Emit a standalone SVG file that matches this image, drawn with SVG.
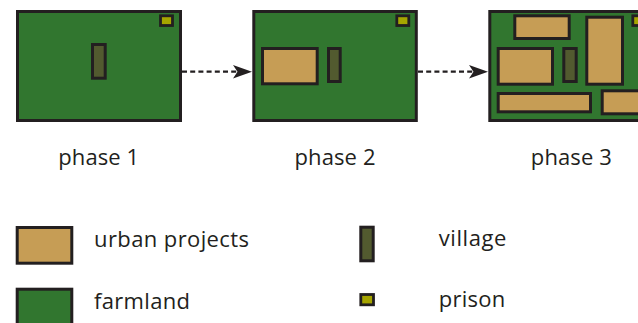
<svg xmlns="http://www.w3.org/2000/svg" width="638" height="323" viewBox="0 0 638 323">
<defs>
<style>
.farm{fill:#31762F;stroke:#231F20;stroke-width:3}
.urban{fill:#C69D55;stroke:#231F20;stroke-width:3}
.village{fill:#525A2F;stroke:#231F20;stroke-width:3}
.prison{fill:#A6A500;stroke:#231F20;stroke-width:2.8}
.lbl{font-family:"Open Sans","Noto Sans",sans-serif;font-size:22px;fill:#231F20}
.conn{stroke:#231F20;stroke-width:2.3;stroke-dasharray:5 3.2;fill:none}
.head{fill:#231F20}
</style>
</defs>
<rect width="638" height="323" fill="#FFFFFF"/>
<g id="phase1">
<rect class="farm" x="17.5" y="11.5" width="163" height="109"/>
<rect class="village" x="92.5" y="44.5" width="12.7" height="33.7"/>
<rect class="prison" x="160.5" y="15.8" width="12" height="9.7"/>
<text class="lbl" x="98.7" y="165" text-anchor="middle" textLength="81">phase 1</text>
</g>
<g id="phase2">
<rect class="farm" x="253.8" y="11.5" width="162.5" height="109"/>
<rect class="urban" x="262.5" y="48.5" width="54.7" height="35.3"/>
<rect class="village" x="328.5" y="48.5" width="11.7" height="33"/>
<rect class="prison" x="396.8" y="15.8" width="12" height="9.7"/>
<text class="lbl" x="335" y="165" text-anchor="middle" textLength="81">phase 2</text>
</g>
<g id="phase3">
<rect class="farm" x="489.8" y="11.5" width="163" height="109"/>
<rect class="urban" x="514.8" y="15.8" width="54.4" height="22.7"/>
<rect class="urban" x="586.8" y="17.2" width="35.7" height="67"/>
<rect class="urban" x="498.2" y="48.5" width="54.3" height="35.7"/>
<rect class="village" x="563.8" y="48.5" width="12.4" height="33"/>
<rect class="urban" x="498.2" y="93.5" width="92.3" height="18.3"/>
<rect class="urban" x="602.2" y="90.8" width="60" height="23"/>
<rect class="prison" x="632.8" y="15.8" width="12" height="9.7"/>
<text class="lbl" x="571.3" y="165" text-anchor="middle" textLength="81">phase 3</text>
</g>
<g id="connectors">
<line class="conn" x1="182" y1="71.7" x2="237" y2="71.7"/>
<path class="head" d="M252,71.7 L233,65 L237.5,71.7 L233,78.4 Z"/>
<line class="conn" x1="418" y1="71.7" x2="473" y2="71.7"/>
<path class="head" d="M488,71.7 L469,65 L473.5,71.7 L469,78.4 Z"/>
</g>
<g id="legend-urban">
<rect class="urban" x="17.2" y="227.5" width="54.6" height="35.7"/>
<text class="lbl" x="94" y="247" textLength="155">urban projects</text>
</g>
<g id="legend-farmland">
<rect class="farm" x="17.2" y="289.2" width="54.6" height="35.7"/>
<text class="lbl" x="94" y="309" textLength="96">farmland</text>
</g>
<g id="legend-village">
<rect class="village" x="360.8" y="227.2" width="12.4" height="33.6"/>
<text class="lbl" x="438.7" y="246" textLength="67.6">village</text>
</g>
<g id="legend-prison">
<rect class="prison" x="360.8" y="294.5" width="12.7" height="10.3"/>
<text class="lbl" x="438.7" y="306.5" textLength="66.6">prison</text>
</g>
</svg>
